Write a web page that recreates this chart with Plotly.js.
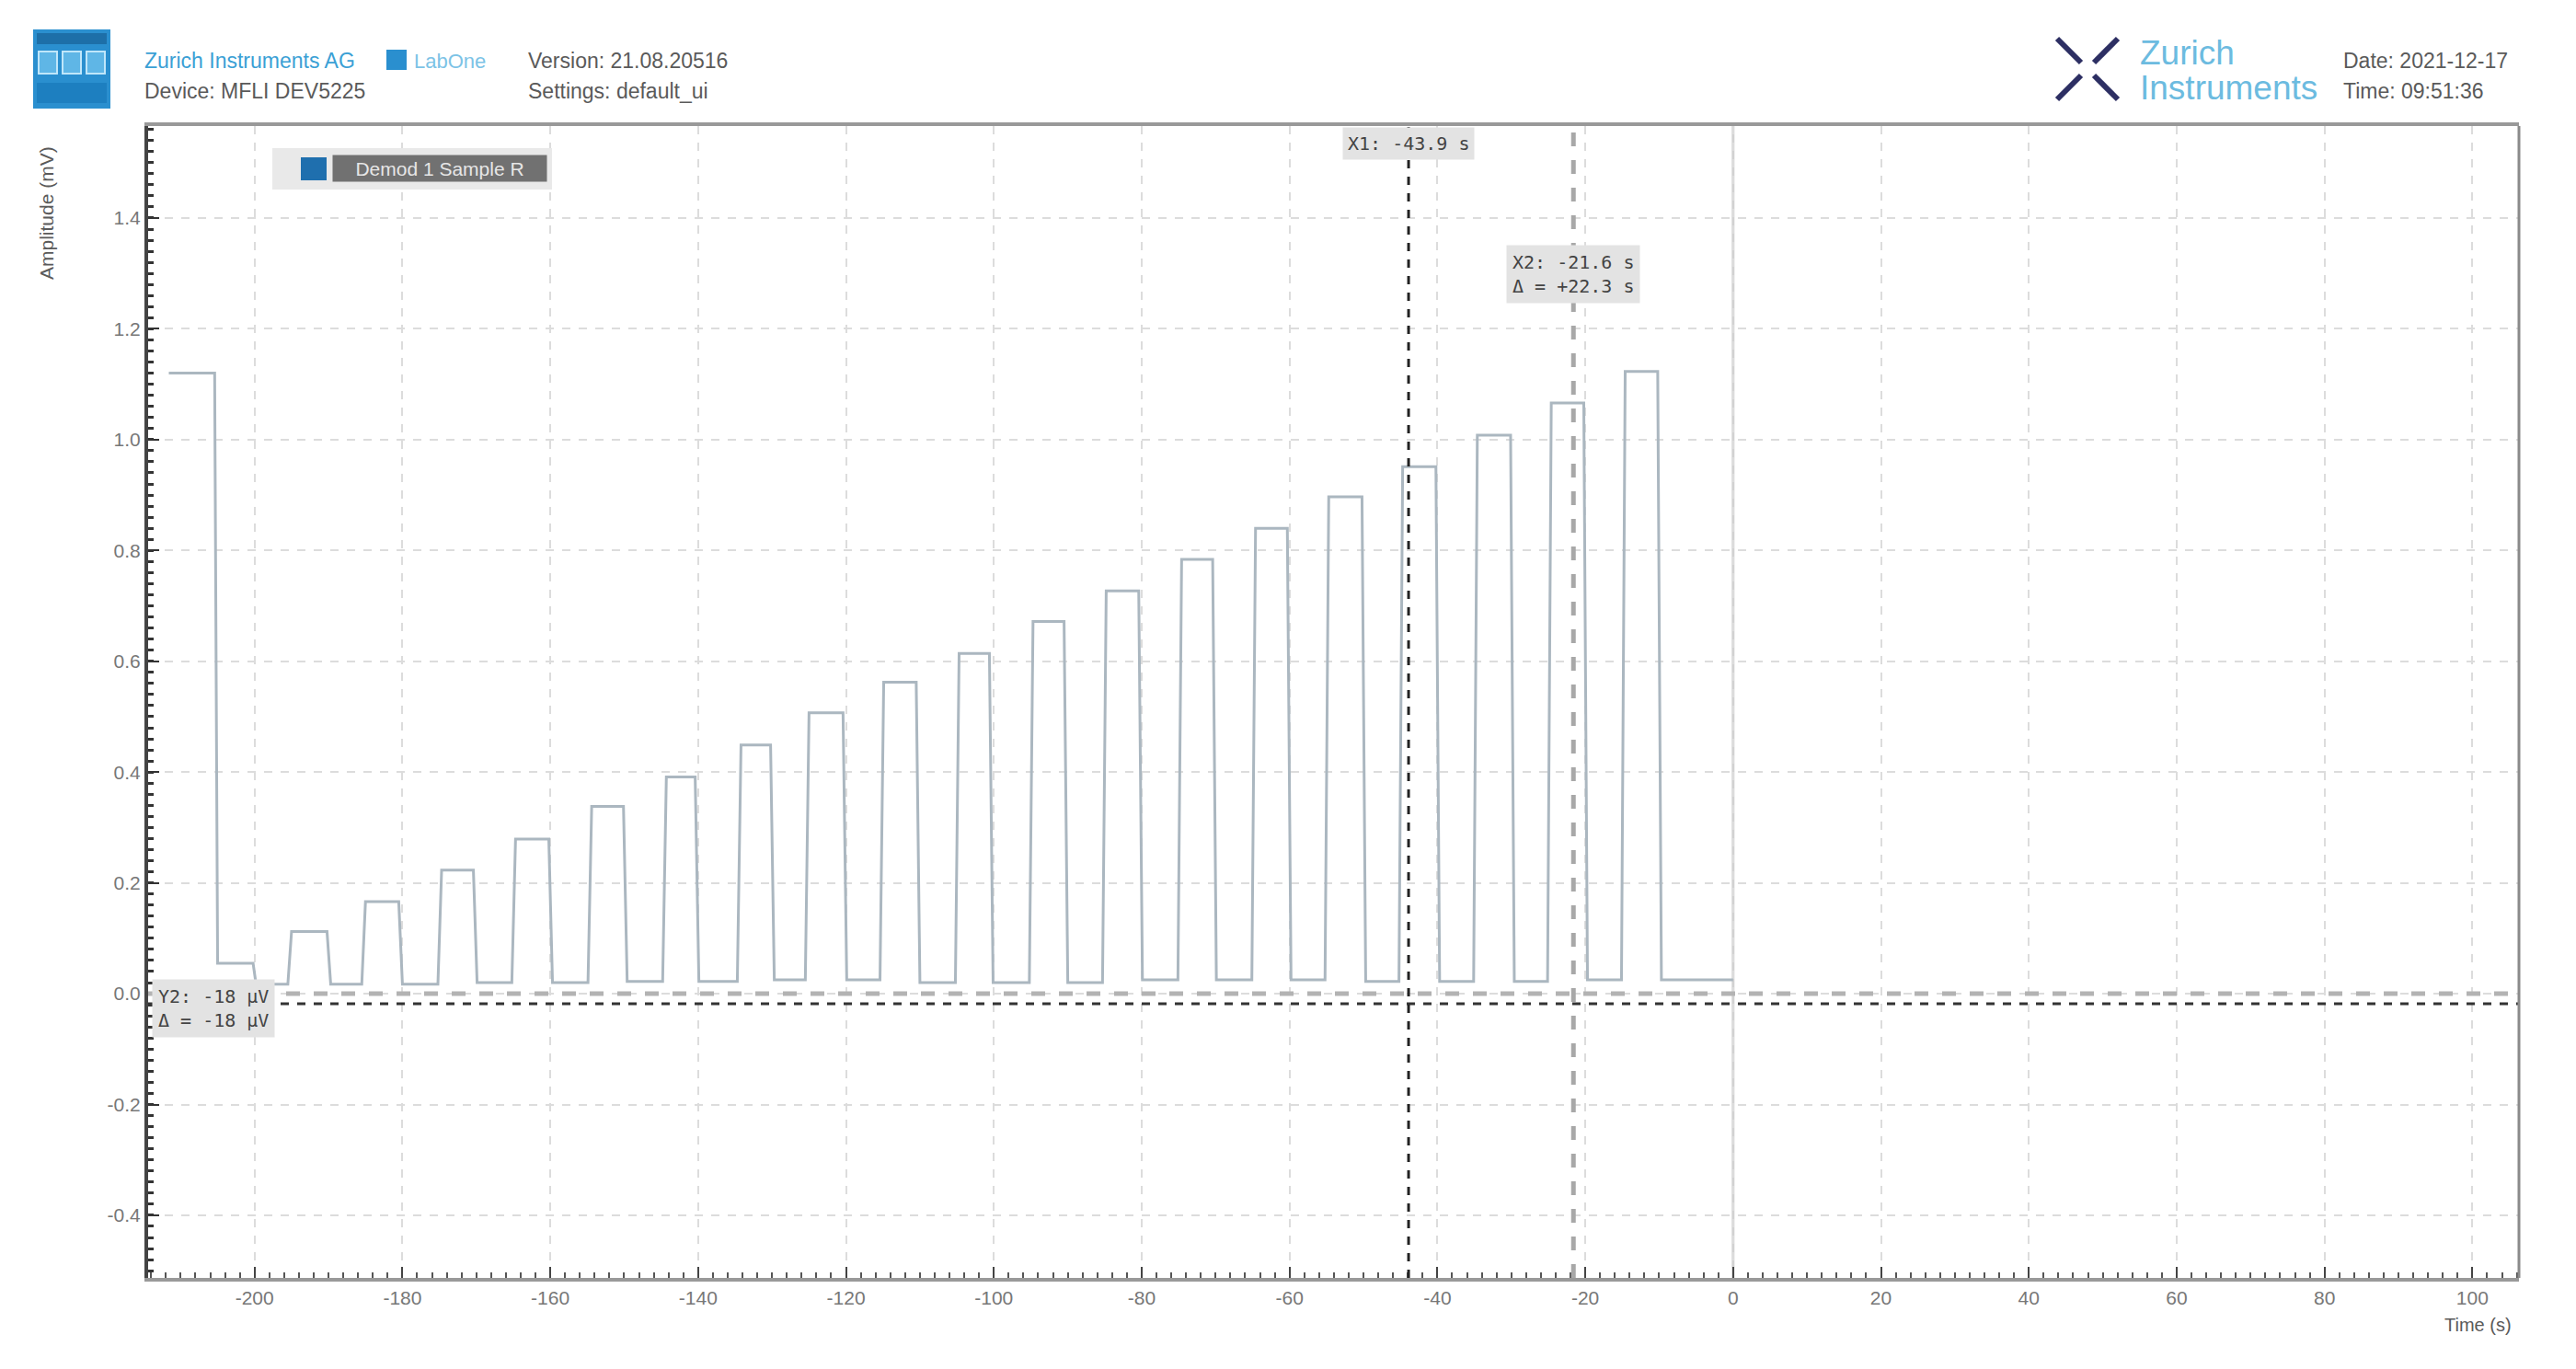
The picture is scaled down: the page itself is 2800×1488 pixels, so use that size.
<!DOCTYPE html>
<html>
<head>
<meta charset="utf-8">
<script src="https://cdn.plot.ly/plotly-3.0.1.min.js"></script>
<style>
  html, body { margin: 0; padding: 0; background: #fff; }
  #chart { width: 2800px; height: 1488px; }
</style>
</head>
<body>
<div id="chart"></div>
<script>
// values (Demod 1 Sample R, mV vs s)
let leadTimes = [-211.6, -205.4, -205.0, -200.2, -199.8];
let leadValues = [1.12, 1.12, 0.055, 0.055, 0.017];

let riseTimes = [-195.5, -185.5, -175.2, -165.2, -154.9, -144.8, -134.7, -125.5, -115.4, -105.2,
                 -95.2, -85.3, -75.1, -65.1, -55.2, -45.2, -35.1, -25.1, -15.1];
let fallTimes = [-190.2, -180.5, -170.4, -160.2, -150.1, -140.4, -130.2, -120.4, -110.5, -100.6,
                 -90.5, -80.4, -70.4, -60.3, -50.2, -40.2, -30.1, -20.2, -10.2];
let pulseHeights = [0.112, 0.166, 0.223, 0.279, 0.338, 0.391, 0.449, 0.507, 0.562, 0.614,
                    0.672, 0.727, 0.784, 0.840, 0.897, 0.951, 1.008, 1.066, 1.123];
// low level before each pulse, last one is the level after the last pulse
let baseLevels = [0.017, 0.017, 0.017, 0.020, 0.020, 0.022, 0.022, 0.025, 0.025, 0.020,
                  0.020, 0.020, 0.025, 0.025, 0.025, 0.022, 0.022, 0.022, 0.025, 0.025];
let edgeTime = 0.5;
let endTime = 0;

// cursors
let cursorX1 = -43.9;
let cursorX2 = -21.6;
let cursorY1 = 0;
let cursorY2 = -0.018;

let xTickVals = [-200, -180, -160, -140, -120, -100, -80, -60, -40, -20, 0, 20, 40, 60, 80, 100];
let yTickVals = [-0.4, -0.2, 0.0, 0.2, 0.4, 0.6, 0.8, 1.0, 1.2, 1.4];

// build the step trace from the tables above
let xs = leadTimes.slice();
let ys = leadValues.slice();
for (let i = 0; i < pulseHeights.length; i++) {
  xs.push(riseTimes[i], riseTimes[i] + edgeTime, fallTimes[i], fallTimes[i] + edgeTime);
  ys.push(baseLevels[i], pulseHeights[i], pulseHeights[i], baseLevels[i + 1]);
}
xs.push(endTime);
ys.push(baseLevels[baseLevels.length - 1]);

let data = [{
  x: xs,
  y: ys,
  type: 'scatter',
  mode: 'lines',
  name: 'Demod 1 Sample R',
  line: { color: '#abb7c0', width: 3 },
  hoverinfo: 'skip'
}];

// plot area in page pixels
let L = 161, R = 2738, T = 137, B = 1389;
function px(x) { return (x - L) / (R - L); }
function py(y) { return (B - y) / (B - T); }

let textGrey = '#5a5a5a';
let ziBlue = '#3aa0d5';
let mono = 'DejaVu Sans Mono';

let annotations = [
  // header
  { text: 'Zurich Instruments AG', x: px(155), y: py(66), xanchor: 'left', yanchor: 'middle', font: { size: 23, color: ziBlue } },
  { text: 'Device: MFLI DEV5225', x: px(155), y: py(99), xanchor: 'left', yanchor: 'middle', font: { size: 23, color: textGrey } },
  { text: 'LabOne', x: px(448), y: py(66), xanchor: 'left', yanchor: 'middle', font: { size: 22, color: '#7cc3e6' } },
  { text: 'Version: 21.08.20516', x: px(572), y: py(66), xanchor: 'left', yanchor: 'middle', font: { size: 23, color: textGrey } },
  { text: 'Settings: default_ui', x: px(572), y: py(99), xanchor: 'left', yanchor: 'middle', font: { size: 23, color: textGrey } },
  { text: 'Zurich', x: px(2324), y: py(58), xanchor: 'left', yanchor: 'middle', font: { size: 37, color: '#6cbbe0' } },
  { text: 'Instruments', x: px(2324), y: py(95), xanchor: 'left', yanchor: 'middle', font: { size: 37, color: '#6cbbe0' } },
  { text: 'Date: 2021-12-17', x: px(2545), y: py(66), xanchor: 'left', yanchor: 'middle', font: { size: 23, color: textGrey } },
  { text: 'Time: 09:51:36', x: px(2545), y: py(99), xanchor: 'left', yanchor: 'middle', font: { size: 23, color: textGrey } },
  // axis titles
  { text: 'Amplitude (mV)', x: px(50), y: py(232), textangle: -90, xanchor: 'center', yanchor: 'middle', font: { size: 21, color: textGrey } },
  { text: 'Time (s)', x: px(2693), y: py(1440), xanchor: 'center', yanchor: 'middle', font: { size: 20, color: textGrey } },
  // legend label
  { text: 'Demod 1 Sample R', x: px(478), y: py(183), xanchor: 'center', yanchor: 'middle',
    font: { size: 21, color: '#e6e6e6' }, bgcolor: '#717171', width: 230, height: 26 },
  // cursor labels
  { text: 'X1: -43.9 s', xref: 'x', x: cursorX1, y: py(156), xanchor: 'center', yanchor: 'middle',
    font: { size: 20, color: '#444', family: mono }, bgcolor: '#e3e3e3', borderpad: 5 },
  { text: 'X2: -21.6 s<br>Δ = +22.3 s', xref: 'x', x: cursorX2, y: py(298), xanchor: 'center', yanchor: 'middle',
    font: { size: 20, color: '#444', family: mono }, bgcolor: '#e3e3e3', borderpad: 6 },
  { text: 'Y2: -18 µV<br>Δ = -18 µV', x: px(165), yref: 'y', y: -0.026, xanchor: 'left', yanchor: 'middle',
    font: { size: 20, color: '#444', family: mono }, bgcolor: '#e3e3e3', borderpad: 6 }
];
annotations.forEach(function (a) {
  if (!a.xref) a.xref = 'paper';
  if (!a.yref) a.yref = 'paper';
  a.showarrow = false;
});

function paperRect(x0, y0, x1, y1, fill, lineColor) {
  return { type: 'rect', xref: 'paper', yref: 'paper', x0: px(x0), x1: px(x1), y0: py(y0), y1: py(y1),
           fillcolor: fill, line: { width: lineColor ? 2 : 0, color: lineColor || fill }, layer: 'above' };
}
function paperLine(x0, y0, x1, y1, color, width) {
  return { type: 'line', xref: 'paper', yref: 'paper', x0: px(x0), x1: px(x1), y0: py(y0), y1: py(y1),
           line: { color: color, width: width }, layer: 'above' };
}

let shapes = [
  // t = 0 marker
  { type: 'line', xref: 'x', yref: 'paper', x0: 0, x1: 0, y0: 0, y1: 1, line: { color: '#d2d2d2', width: 3 }, layer: 'below' },
  // cursors
  { type: 'line', xref: 'paper', yref: 'y', x0: 0, x1: 1, y0: cursorY1, y1: cursorY1, line: { color: '#b3b3b3', width: 5, dash: 'dash' } },
  { type: 'line', xref: 'paper', yref: 'y', x0: 0, x1: 1, y0: cursorY2, y1: cursorY2, line: { color: '#333', width: 3, dash: 'dash' } },
  { type: 'line', xref: 'x', yref: 'paper', x0: cursorX1, x1: cursorX1, y0: 0, y1: 1, line: { color: '#222', width: 3, dash: 'dash' } },
  { type: 'line', xref: 'x', yref: 'paper', x0: cursorX2, x1: cursorX2, y0: 0, y1: 1, line: { color: '#a8a8a8', width: 5, dash: 'dash' } },
  // right border
  paperLine(R, T, R, B, '#8a8a8a', 3),
  // legend box
  paperRect(296, 161, 600, 206, '#e9e9e9'),
  paperRect(327, 171, 355, 196, '#1f6fae'),
  // left logo
  paperRect(36, 32, 120, 118, '#2a8fcf'),
  paperRect(40, 36, 116, 48, '#1d6fa8'),
  paperRect(42, 56, 62, 80, '#5fb6e6', '#bfe6fa'),
  paperRect(68, 56, 88, 80, '#5fb6e6', '#bfe6fa'),
  paperRect(94, 56, 114, 80, '#5fb6e6', '#bfe6fa'),
  paperRect(40, 90, 116, 112, '#1d7fc0'),
  // LabOne icon
  paperRect(420, 54, 442, 76, '#2a8fcf'),
  // Zurich Instruments X mark
  paperLine(2236, 42, 2262, 68, '#2d2f63', 6),
  paperLine(2302, 42, 2276, 68, '#2d2f63', 6),
  paperLine(2236, 108, 2262, 82, '#2d2f63', 6),
  paperLine(2302, 108, 2276, 82, '#2d2f63', 6)
];

let layout = {
  width: 2800,
  height: 1488,
  margin: { l: L, r: 2800 - R, t: T, b: 1488 - B, pad: 0 },
  paper_bgcolor: '#ffffff',
  plot_bgcolor: '#ffffff',
  showlegend: false,
  font: { family: 'Liberation Sans, Arial, sans-serif', color: '#666' },
  xaxis: {
    range: [-214.4, 106.3],
    tickvals: xTickVals,
    ticktext: xTickVals.map(String),
    ticks: 'inside',
    ticklen: 12,
    tickwidth: 2,
    tickcolor: '#444',
    tickfont: { size: 21, color: '#777' },
    showgrid: true,
    gridcolor: '#dcdcdc',
    gridwidth: 2,
    griddash: 'dash',
    zeroline: false,
    showline: true,
    linecolor: '#999',
    linewidth: 4,
    mirror: true,
    minor: { dtick: 2, tick0: 0, ticks: 'inside', ticklen: 6, tickwidth: 2, tickcolor: '#555', showgrid: false }
  },
  yaxis: {
    range: [-0.513, 1.566],
    tickvals: yTickVals,
    ticktext: yTickVals.map(function (v) { return v.toFixed(1); }),
    ticks: 'inside',
    ticklen: 12,
    tickwidth: 2,
    tickcolor: '#333',
    tickfont: { size: 21, color: '#777' },
    showgrid: true,
    gridcolor: '#dcdcdc',
    gridwidth: 2,
    griddash: 'dash',
    zeroline: false,
    showline: true,
    linecolor: '#444',
    linewidth: 4,
    minor: { dtick: 0.02, tick0: 0, ticks: 'inside', ticklen: 6, tickwidth: 3, tickcolor: '#333', showgrid: false }
  },
  annotations: annotations,
  shapes: shapes
};

Plotly.newPlot('chart', data, layout, { displayModeBar: false, staticPlot: true });
</script>
</body>
</html>
